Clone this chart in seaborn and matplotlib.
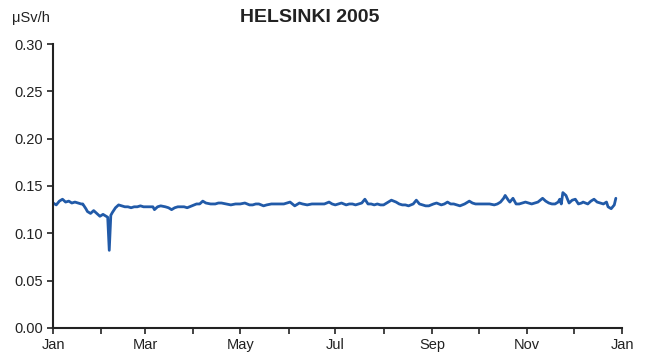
import pandas as pd
import matplotlib.pyplot as plt
import matplotlib.dates as mdates
import seaborn as sns

# day of year (0 = 1 Jan 2005) and dose rate
days = [0, 2, 4, 6, 8, 10, 12, 14, 16, 18, 19, 21, 22, 24, 26, 28, 30, 32, 34, 35,
        36, 37, 38, 40, 42, 44, 46, 48, 50, 52, 54, 56, 58, 62, 64, 65, 67, 69, 72, 74,
        76, 78, 80, 84, 86, 89, 92, 94, 96, 98, 101, 104, 106, 108, 111, 114, 117, 120,
        123, 126, 128, 130, 132, 135, 137, 140, 143, 146, 148, 150, 152, 155, 158, 160,
        163, 166, 169, 172, 174, 177, 179, 181, 183, 185, 188, 190, 192, 194, 196, 198,
        200, 202, 204, 206, 208, 210, 212, 214, 217, 220, 222, 224, 226, 228, 231, 233,
        235, 237, 239, 241, 244, 246, 249, 251, 253, 255, 257, 259, 261, 264, 267, 269,
        271, 274, 277, 280, 283, 285, 287, 289, 290, 292, 293, 295, 297, 299, 301, 303,
        305, 307, 309, 311, 314, 316, 318, 320, 322, 324, 325, 326, 327, 329, 331, 333,
        335, 337, 339, 340, 343, 345, 347, 349, 351, 353, 355, 356, 358, 359, 360, 361]
dose = [0.132, 0.130, 0.134, 0.136, 0.133, 0.134, 0.132, 0.133, 0.132, 0.131, 0.131,
        0.126, 0.123, 0.121, 0.124, 0.121, 0.118, 0.120, 0.118, 0.117, 0.082, 0.119,
        0.122, 0.127, 0.130, 0.129, 0.128, 0.128, 0.127, 0.128, 0.128, 0.129, 0.128,
        0.128, 0.128, 0.125, 0.128, 0.129, 0.128, 0.127, 0.125, 0.127, 0.128, 0.128,
        0.127, 0.129, 0.131, 0.131, 0.134, 0.132, 0.131, 0.131, 0.132, 0.132, 0.131,
        0.130, 0.131, 0.131, 0.132, 0.130, 0.130, 0.131, 0.131, 0.129, 0.130, 0.131,
        0.131, 0.131, 0.131, 0.132, 0.133, 0.129, 0.132, 0.131, 0.130, 0.131, 0.131,
        0.131, 0.131, 0.133, 0.131, 0.130, 0.131, 0.132, 0.130, 0.131, 0.131, 0.130,
        0.131, 0.132, 0.136, 0.131, 0.131, 0.130, 0.131, 0.130, 0.130, 0.132, 0.135,
        0.133, 0.131, 0.130, 0.130, 0.129, 0.131, 0.135, 0.131, 0.130, 0.129, 0.129,
        0.131, 0.132, 0.130, 0.131, 0.133, 0.131, 0.131, 0.130, 0.129, 0.131, 0.134,
        0.132, 0.131, 0.131, 0.131, 0.131, 0.130, 0.131, 0.133, 0.137, 0.140, 0.135,
        0.133, 0.137, 0.131, 0.131, 0.132, 0.133, 0.132, 0.131, 0.132, 0.133, 0.137,
        0.134, 0.132, 0.131, 0.131, 0.133, 0.136, 0.131, 0.143, 0.140, 0.132, 0.135,
        0.136, 0.131, 0.132, 0.133, 0.131, 0.134, 0.136, 0.133, 0.132, 0.131, 0.133,
        0.128, 0.126, 0.128, 0.130, 0.137]

df = pd.DataFrame({"date": pd.Timestamp("2005-01-01") + pd.to_timedelta(days, unit="D"),
                   "dose": dose})

sns.set_style("ticks")
plt.rcParams['font.family'] = ['Liberation Sans', 'DejaVu Sans']

fig = plt.figure(figsize=(6.48, 3.58), dpi=100)
ax = fig.add_axes([0.082, 0.084, 0.878, 0.793])

sns.lineplot(data=df, x="date", y="dose", color="#215aa8", linewidth=2.0, ax=ax)

ax.set_xlim(pd.Timestamp("2005-01-01"), pd.Timestamp("2006-01-01"))
ax.set_ylim(0, 0.30)
ax.set_yticks([0, 0.05, 0.10, 0.15, 0.20, 0.25, 0.30])
ax.yaxis.set_major_formatter(plt.FormatStrFormatter("%.2f"))
ax.xaxis.set_major_locator(mdates.MonthLocator(bymonth=[1, 3, 5, 7, 9, 11]))
ax.xaxis.set_minor_locator(mdates.MonthLocator())
ax.xaxis.set_major_formatter(mdates.DateFormatter("%b"))
ax.set_xlabel("")
ax.set_ylabel("")
ax.tick_params(axis="both", which="both", direction="out", length=4, width=1.2,
               colors="#222222", labelsize=10.5)
ax.tick_params(axis="x", pad=3)
for s in ["left", "bottom"]:
    ax.spines[s].set_linewidth(1.5)
    ax.spines[s].set_color("#222222")
sns.despine(ax=ax)

fig.text(0.478, 0.95, "HELSINKI 2005", ha="center", va="center",
         fontsize=14, fontweight="bold", color="#222222")
fig.text(0.018, 0.95, "μSv/h", ha="left", va="center", fontsize=10.5, color="#222222")

fig.savefig("out.png", dpi=100)
